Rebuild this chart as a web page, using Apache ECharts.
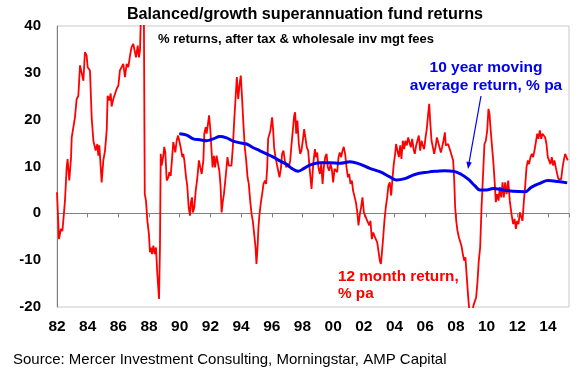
<!DOCTYPE html>
<html>
<head>
<meta charset="utf-8">
<title>Balanced/growth superannuation fund returns</title>
<script src="https://cdn.jsdelivr.net/npm/echarts@6/dist/echarts.min.js"></script>
<style>
  html, body { margin: 0; padding: 0; background: #fff; }
  #main { width: 580px; height: 375px; }
</style>
</head>
<body>
<div id="main"></div>
<script type="text/javascript">
// 12 month return, % pa  [year, value]
var return12m = [
  [1982.00,4.5],[1982.13,-5.5],[1982.26,-3.3],[1982.35,-3.8],[1982.41,-1.6],[1982.52,2.7],[1982.63,9.8],[1982.69,11.6],
  [1982.80,7.0],[1982.91,11.6],[1982.96,16.2],[1983.06,16.6],[1983.17,20.5],[1983.28,24.4],[1983.39,25.1],[1983.50,31.6],
  [1983.61,31.9],[1983.72,28.3],[1983.82,34.4],[1983.93,33.7],[1984.00,31.2],[1984.15,30.5],[1984.26,20.5],[1984.37,15.5],
  [1984.48,15.2],[1984.52,13.4],[1984.63,14.8],[1984.69,12.3],[1984.76,14.5],[1984.91,6.6],[1985.02,11.3],[1985.13,13.4],
  [1985.24,17.7],[1985.30,25.1],[1985.41,24.1],[1985.50,25.6],[1985.56,22.8],[1985.67,24.4],[1985.78,24.1],[1985.89,26.6],
  [1986.00,27.3],[1986.10,30.5],[1986.21,30.8],[1986.32,31.9],[1986.43,29.1],[1986.54,31.9],[1986.65,31.2],[1986.76,33.7],
  [1986.86,35.5],[1986.97,36.2],[1987.08,36.5],[1987.15,33.3],[1987.26,35.8],[1987.34,33.3],[1987.41,34.8],[1987.49,45],
  [1987.58,48],[1987.66,44],[1987.72,4.1],[1987.80,2.7],[1987.89,-1.6],[1987.99,-4.4],[1988.06,-8.3],[1988.13,-7.3],
  [1988.19,-8.7],[1988.28,-6.9],[1988.37,-8.7],[1988.45,-7.3],[1988.54,-13.0],[1988.65,-18.3],[1988.71,-7.3],[1988.76,12.7],
  [1988.82,10.2],[1988.93,12.3],[1988.99,14.2],[1989.06,13.0],[1989.15,7.0],[1989.26,7.7],[1989.32,8.8],[1989.41,8.0],
  [1989.49,11.3],[1989.58,15.2],[1989.65,14.1],[1989.71,13.0],[1989.80,15.5],[1989.89,16.6],[1989.97,15.5],[1990.06,14.1],
  [1990.17,12.0],[1990.23,12.7],[1990.30,11.3],[1990.41,7.7],[1990.49,5.9],[1990.58,1.3],[1990.67,-0.5],[1990.73,2.4],
  [1990.80,3.4],[1990.86,0.2],[1990.95,1.3],[1991.04,4.8],[1991.15,7.7],[1991.25,11.3],[1991.34,9.8],[1991.43,8.4],
  [1991.54,11.3],[1991.60,17.0],[1991.69,18.4],[1991.75,17.0],[1991.84,19.1],[1991.91,20.9],[1991.99,18.0],[1992.06,14.1],
  [1992.14,9.8],[1992.23,12.3],[1992.30,9.8],[1992.40,12.3],[1992.49,12.0],[1992.58,9.1],[1992.66,5.9],[1992.73,0.2],
  [1992.80,2.4],[1992.88,4.1],[1992.94,3.8],[1993.01,8.4],[1993.11,12.0],[1993.20,10.2],[1993.29,10.5],[1993.37,10.2],
  [1993.46,14.1],[1993.55,19.8],[1993.63,24.1],[1993.72,29.1],[1993.81,24.4],[1993.90,27.6],[1993.98,29.4],[1994.07,24.1],
  [1994.16,18.4],[1994.24,14.1],[1994.33,11.3],[1994.42,7.7],[1994.50,6.3],[1994.59,2.7],[1994.68,-0.1],[1994.76,-1.6],
  [1994.85,-4.4],[1994.94,-7.3],[1995.00,-10.8],[1995.07,-7.3],[1995.13,-3.0],[1995.20,-0.1],[1995.29,2.4],[1995.37,4.1],
  [1995.46,6.3],[1995.55,7.0],[1995.63,6.3],[1995.70,9.8],[1995.76,15.9],[1995.83,15.5],[1995.91,17.7],[1996.02,20.5],
  [1996.09,17.7],[1996.15,14.1],[1996.24,12.0],[1996.33,10.5],[1996.41,10.9],[1996.50,7.7],[1996.59,9.5],[1996.67,12.7],
  [1996.76,13.4],[1996.85,11.3],[1996.94,9.8],[1997.02,10.5],[1997.11,9.8],[1997.20,11.3],[1997.28,14.5],[1997.37,17.7],
  [1997.46,20.9],[1997.52,21.6],[1997.59,17.0],[1997.67,19.8],[1997.76,14.8],[1997.85,12.7],[1997.93,13.4],[1998.02,15.5],
  [1998.11,18.0],[1998.20,17.7],[1998.28,14.1],[1998.37,13.4],[1998.46,9.8],[1998.59,5.2],[1998.70,10.5],[1998.81,13.7],
  [1998.87,12.0],[1998.96,13.0],[1999.04,9.8],[1999.13,8.4],[1999.22,10.5],[1999.31,6.3],[1999.39,9.8],[1999.48,12.0],
  [1999.57,12.7],[1999.65,9.8],[1999.74,9.1],[1999.83,10.5],[1999.91,9.5],[2000.00,6.6],[2000.09,9.5],[2000.17,9.8],
  [2000.26,8.8],[2000.35,12.0],[2000.43,13.0],[2000.52,12.0],[2000.61,13.4],[2000.69,14.2],[2000.78,12.7],[2000.87,9.8],
  [2000.96,7.7],[2001.04,8.4],[2001.13,6.3],[2001.22,7.0],[2001.30,4.8],[2001.39,5.2],[2001.48,2.4],[2001.56,0.6],
  [2001.65,-2.6],[2001.74,-0.1],[2001.82,1.3],[2001.91,3.4],[2002.00,0.2],[2002.08,-0.1],[2002.17,-1.2],[2002.26,-0.9],
  [2002.35,-2.6],[2002.43,-1.6],[2002.52,-5.5],[2002.61,-4.1],[2002.69,-4.8],[2002.78,-5.1],[2002.87,-6.2],[2002.95,-8.0],
  [2003.04,-10.1],[2003.11,-10.8],[2003.17,-8.7],[2003.26,-5.1],[2003.34,-1.6],[2003.43,1.3],[2003.52,3.4],[2003.60,5.9],
  [2003.69,6.6],[2003.78,3.8],[2003.87,7.7],[2003.95,10.5],[2004.04,12.7],[2004.10,14.8],[2004.17,14.5],[2004.28,12.0],
  [2004.37,14.5],[2004.45,11.6],[2004.54,15.5],[2004.63,13.7],[2004.71,15.5],[2004.80,14.5],[2004.89,16.2],[2004.98,16.6],
  [2005.06,14.1],[2005.15,15.9],[2005.24,13.7],[2005.32,12.7],[2005.41,14.5],[2005.50,14.1],[2005.58,16.6],[2005.67,13.4],
  [2005.76,15.5],[2005.84,14.5],[2005.93,13.7],[2006.02,16.2],[2006.10,18.0],[2006.19,21.2],[2006.26,23.4],[2006.32,19.8],
  [2006.41,15.5],[2006.50,14.1],[2006.58,12.7],[2006.67,14.1],[2006.76,16.2],[2006.84,16.6],[2006.93,14.1],[2007.02,13.0],
  [2007.10,14.1],[2007.19,15.5],[2007.28,17.3],[2007.34,14.5],[2007.41,14.1],[2007.49,14.8],[2007.60,13.7],[2007.71,13.7],
  [2007.82,11.3],[2007.89,7.0],[2007.95,1.3],[2008.02,-1.6],[2008.10,-3.7],[2008.19,-5.1],[2008.28,-5.5],[2008.36,-6.9],
  [2008.45,-8.7],[2008.54,-10.1],[2008.62,-9.4],[2008.71,-13.7],[2008.80,-17.9],[2008.88,-21],[2009.01,-22],[2009.10,-21],
  [2009.14,-19.7],[2009.23,-19.4],[2009.32,-17.9],[2009.41,-14.4],[2009.49,-10.1],[2009.58,-7.3],[2009.67,1.3],[2009.78,9.1],
  [2009.86,14.8],[2009.95,15.5],[2010.04,17.7],[2010.12,22.3],[2010.19,21.2],[2010.25,18.4],[2010.34,14.8],[2010.43,11.3],
  [2010.52,7.0],[2010.60,2.4],[2010.69,4.1],[2010.78,2.7],[2010.86,5.6],[2010.95,3.4],[2011.04,6.6],[2011.12,3.4],
  [2011.21,6.6],[2011.30,4.1],[2011.41,7.0],[2011.51,2.7],[2011.62,-0.1],[2011.73,-2.3],[2011.82,-1.2],[2011.91,-3.3],
  [2011.99,-1.6],[2012.08,-2.3],[2012.17,0.2],[2012.25,-0.1],[2012.34,-1.6],[2012.43,2.7],[2012.51,5.6],[2012.60,9.8],
  [2012.69,11.3],[2012.77,10.5],[2012.86,12.0],[2012.95,12.7],[2013.03,12.0],[2013.12,13.4],[2013.21,13.7],[2013.30,17.0],
  [2013.38,15.9],[2013.47,17.7],[2013.56,15.9],[2013.64,17.0],[2013.73,17.0],[2013.82,16.2],[2013.90,14.8],[2013.99,12.0],
  [2014.08,12.3],[2014.16,10.5],[2014.25,12.0],[2014.34,10.2],[2014.42,11.3],[2014.51,9.8],[2014.60,8.4],[2014.68,7.3],
  [2014.77,7.0],[2014.86,7.3],[2014.95,9.8],[2015.03,11.3],[2015.12,12.7],[2015.21,13.0],[2015.29,11.3]
];

// 10 year moving average return, % pa
var avg10y = [
  [1989.97,17.0],[1990.45,16.7],[1990.88,15.9],[1991.32,15.7],[1991.75,15.5],[1992.18,15.9],[1992.62,16.4],[1993.05,16.1],
  [1993.49,15.4],[1994.00,15.0],[1994.36,14.8],[1994.79,14.0],[1995.20,13.4],[1995.66,12.7],[1996.10,12.0],[1996.53,11.2],
  [1997.00,10.4],[1997.30,9.6],[1997.72,9.0],[1998.10,9.6],[1998.48,10.3],[1999.13,10.8],[1999.80,10.8],[2000.44,10.7],
  [2000.87,10.9],[2001.09,11.0],[2001.74,10.5],[2002.39,9.6],[2003.04,8.9],[2003.69,7.8],[2004.13,7.1],[2004.67,7.4],
  [2005.32,8.3],[2006.19,8.8],[2006.80,9.0],[2007.28,9.1],[2007.82,9.0],[2008.36,8.3],[2008.80,7.3],[2009.23,5.9],
  [2009.56,5.0],[2009.99,5.0],[2010.43,5.3],[2011.08,5.0],[2011.73,4.7],[2012.49,4.6],[2012.93,5.6],[2013.47,6.4],
  [2014.01,7.0],[2014.66,6.8],[2015.25,6.5]
];

var yearStart = 1982;
var yearEnd = 2015.37;
var yMin = -20, yMax = 40;

var FONT = '"Liberation Sans", Arial, sans-serif';

var myChart = echarts.init(document.getElementById('main'));

var option = {
  animation: false,
  backgroundColor: '#ffffff',
  grid: {
    left: 57, top: 26, right: 11, bottom: 68,
    show: true,
    borderColor: '#c8c8c8',
    borderWidth: 1
  },
  xAxis: [
    { // zero line with ticks
      type: 'value', min: yearStart, max: yearEnd, interval: 2,
      axisLine: { onZero: true, lineStyle: { color: '#808080', width: 1 } },
      axisTick: { show: true, length: 4, lineStyle: { color: '#808080' } },
      axisLabel: { show: false },
      splitLine: { show: false }
    },
    { // year labels at the bottom
      type: 'value', min: yearStart, max: yearEnd, interval: 2,
      position: 'bottom',
      axisLine: { show: false, onZero: false },
      axisTick: { show: false },
      splitLine: { show: false },
      axisLabel: {
        margin: 12,
        color: '#000',
        fontFamily: FONT, fontWeight: 'bold', fontSize: 15.5,
        formatter: function (v) {
          return v % 2 === 0 ? String(v).slice(2) : '';
        }
      }
    }
  ],
  yAxis: {
    type: 'value', min: yMin, max: yMax, interval: 10,
    axisLine: { show: true, lineStyle: { color: '#808080' } },
    axisTick: { show: false },
    splitLine: { show: false },
    axisLabel: {
      margin: 16,
      color: '#000',
      fontFamily: FONT, fontWeight: 'bold', fontSize: 15
    }
  },
  series: [
    {
      name: '12 month return',
      type: 'line',
      xAxisIndex: 0,
      data: return12m,
      showSymbol: false,
      lineStyle: { color: '#ff0000', width: 1.8 },
      z: 3
    },
    {
      name: '10 year moving average',
      type: 'line',
      xAxisIndex: 0,
      data: avg10y,
      smooth: 0.4,
      showSymbol: false,
      lineStyle: { color: '#0000ee', width: 3 },
      z: 4
    }
  ],
  graphic: [
    { type: 'text', x: 305, y: 15, style: { text: 'Balanced/growth superannuation fund returns', font: 'bold 16.2px ' + FONT, fill: '#000', align: 'center', verticalAlign: 'middle' } },
    { type: 'text', x: 296, y: 39, style: { text: '% returns, after tax & wholesale inv mgt fees', font: 'bold 13px ' + FONT, fill: '#000', align: 'center', verticalAlign: 'middle' } },
    { type: 'text', x: 486, y: 68, style: { text: '10 year moving', font: 'bold 15.5px ' + FONT, fill: '#0000ee', align: 'center', verticalAlign: 'middle' } },
    { type: 'text', x: 486, y: 86, style: { text: 'average return, % pa', font: 'bold 15.5px ' + FONT, fill: '#0000ee', align: 'center', verticalAlign: 'middle' } },
    { type: 'line', shape: { x1: 481, y1: 96, x2: 469, y2: 163 }, style: { stroke: '#0000ee', lineWidth: 1.2 } },
    { type: 'polygon', shape: { points: [[468, 169], [471.8, 162.6], [466.4, 161.6]] }, style: { fill: '#0000ee' } },
    { type: 'text', x: 338, y: 277, style: { text: '12 month return,', font: 'bold 15.3px ' + FONT, fill: '#ff0000', align: 'left', verticalAlign: 'middle' } },
    { type: 'text', x: 338, y: 294, style: { text: '% pa', font: 'bold 15.3px ' + FONT, fill: '#ff0000', align: 'left', verticalAlign: 'middle' } },
    { type: 'text', x: 13, y: 360, style: { text: 'Source: Mercer Investment Consulting, Morningstar, AMP Capital', font: '15px ' + FONT, fill: '#000', align: 'left', verticalAlign: 'middle' } }
  ]
};

myChart.setOption(option);
</script>
</body>
</html>
